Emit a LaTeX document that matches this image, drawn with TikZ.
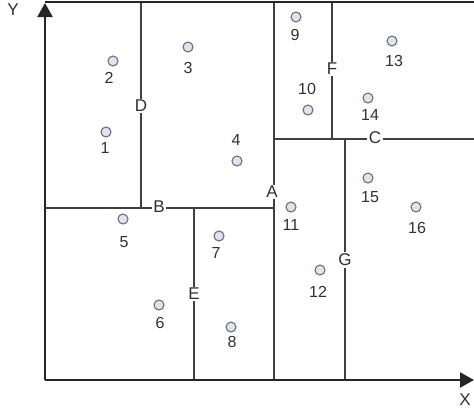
\documentclass[tikz,border=0pt]{standalone}
\usepackage{fontspec}
\setmainfont{Liberation Sans}
\usetikzlibrary{arrows.meta}

\definecolor{splitgray}{HTML}{404040}
\definecolor{ptfill}{HTML}{DCE4F2}
\definecolor{ptdraw}{HTML}{6F6F6F}
\definecolor{txtgray}{HTML}{303030}

\tikzset{
  axis/.style={line width=2.6pt, black!85},
  split/.style={line width=1.6pt, splitgray},
  pt/.style={circle, draw=ptdraw, fill=ptfill, line width=1.1pt, minimum size=10pt, inner sep=0pt},
  num/.style={text=txtgray, font=\fontsize{16}{18}\selectfont, inner sep=1pt},
  cut/.style={text=txtgray, fill=white, font=\fontsize{17}{19}\selectfont, inner sep=1.5pt}
}

\begin{document}
\begin{tikzpicture}[x=1pt, y=-1pt]
\useasboundingbox (0,0) rectangle (474,418);

\coordinate (O) at (45,380);

% splitting lines
\draw[split] (274,2) -- (274,380);
\draw[split] (141,2) -- (141,208);
\draw[split] (45,208) -- (274,208);
\draw[split] (194,208) -- (194,380);
\draw[split] (274,139) -- (474,139);
\draw[split] (332,2) -- (332,139);
\draw[split] (345,139) -- (345,380);

% axes and top border
\draw[axis] (45,2) -- (474,2);
\draw[axis, -{Stealth[length=14pt, width=15pt, inset=0pt]}] (O) -- (45,3);
\draw[axis, -{Stealth[length=14pt, width=15pt, inset=0pt]}] (O) -- (474,380);

\node[text=txtgray, font=\fontsize{17}{19}\selectfont] (ylab) at (13,10) {Y};
\node[text=txtgray, font=\fontsize{17}{19}\selectfont] (xlab) at (465,400) {X};

% split labels
\node[cut] (A) at (272,192) {A};
\node[cut] (B) at (159,207) {B};
\node[cut] (C) at (375,138) {C};
\node[cut] (D) at (141,106) {D};
\node[cut] (E) at (194,294) {E};
\node[cut] (F) at (332,69) {F};
\node[cut] (G) at (345,260) {G};

% points
\node[pt] (p1) at (106,132) {};  \node[num] (n1) at (105,148) {1};
\node[pt] (p2) at (113,61) {};   \node[num] (n2) at (109,78) {2};
\node[pt] (p3) at (188,47) {};   \node[num] (n3) at (188,68) {3};
\node[pt] (p4) at (237,161) {};  \node[num] (n4) at (236,140) {4};
\node[pt] (p5) at (123,219) {};  \node[num] (n5) at (124,242) {5};
\node[pt] (p6) at (159,305) {};  \node[num] (n6) at (160,323) {6};
\node[pt] (p7) at (219,236) {};  \node[num] (n7) at (216,253) {7};
\node[pt] (p8) at (231,327) {};  \node[num] (n8) at (232,342) {8};
\node[pt] (p9) at (296,17) {};   \node[num] (n9) at (295,35) {9};
\node[pt] (p10) at (308,110) {}; \node[num] (n10) at (307,89) {10};
\node[pt] (p11) at (291,207) {}; \node[num] (n11) at (291,225) {11};
\node[pt] (p12) at (320,270) {}; \node[num] (n12) at (318,292) {12};
\node[pt] (p13) at (392,41) {};  \node[num] (n13) at (394,61) {13};
\node[pt] (p14) at (368,98) {};  \node[num] (n14) at (370,115) {14};
\node[pt] (p15) at (368,178) {}; \node[num] (n15) at (370,197) {15};
\node[pt] (p16) at (416,207) {}; \node[num] (n16) at (417,228) {16};
\end{tikzpicture}
\end{document}
